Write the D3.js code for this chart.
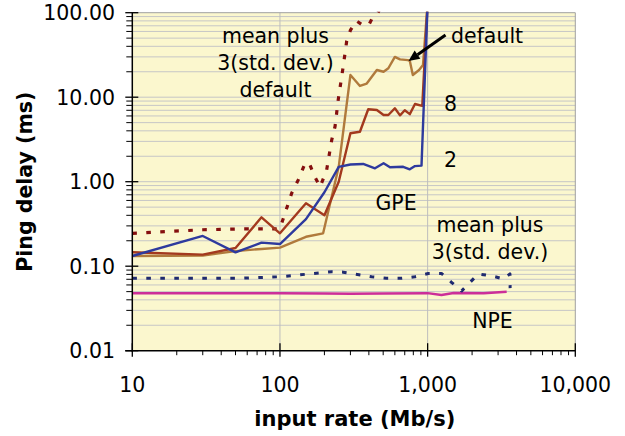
<!DOCTYPE html>
<html><head><meta charset="utf-8">
<script src="https://cdn.jsdelivr.net/npm/d3@7"></script>
<style>body{margin:0;background:#fff}svg{display:block}text{font-family:"DejaVu Sans",Verdana,sans-serif}</style>
</head><body><svg id="c" width="625" height="436"></svg>
<script>
// ---- data (input rate Mb/s, ping delay ms) ----
const xTicks = [10, 100, 1000, 10000];
const xTickLabels = ["10", "100", "1,000", "10,000"];
const yTicks = [0.01, 0.1, 1, 10, 100];
const yTickLabels = ["0.01", "0.10", "1.00", "10.00", "100.00"];

const gpeDefaultRate  = [10, 30, 50, 75, 100, 150, 196, 250, 300, 348, 387, 453, 503, 542, 600, 650, 735, 757, 794, 875, 930, 1000];
const gpeDefaultDelay = [0.132, 0.134, 0.151, 0.16, 0.166, 0.223, 0.245, 1.5, 18.3, 13.6, 14.5, 21, 20, 22, 30, 28, 27.5, 27, 18.3, 21, 24, 130];

const gpe8Rate  = [10, 30, 50, 75, 100, 150, 200, 250, 300, 348, 396, 453, 503, 542, 600, 650, 700, 757, 821, 920, 1000];
const gpe8Delay = [0.146, 0.137, 0.164, 0.379, 0.245, 0.555, 0.40, 1.0, 3.74, 3.9, 7.2, 7.05, 6.15, 6.15, 7.4, 6.1, 7.0, 6.3, 8.3, 7.9, 130];

const gpe2Rate  = [10, 30, 50, 75, 100, 150, 200, 250, 300, 366, 440, 503, 556, 683, 757, 821, 909, 1000];
const gpe2Delay = [0.132, 0.228, 0.146, 0.19, 0.183, 0.36, 0.75, 1.5, 1.6, 1.62, 1.44, 1.65, 1.48, 1.5, 1.40, 1.53, 1.55, 130];

const gpeStdRate  = [10, 30, 56, 95, 100, 120, 133, 148, 158, 172, 187, 207, 224, 236, 248, 268, 283, 300, 330, 360, 400, 420, 460, 500];
const gpeStdDelay = [0.245, 0.27, 0.276, 0.276, 0.28, 0.73, 1.05, 1.65, 1.65, 1.15, 0.87, 1.37, 3.1, 4.5, 9.3, 23, 46, 62, 80, 72, 72, 85, 100, 130];

const npeRate  = [10, 50, 100, 200, 300, 500, 1000, 1240, 1500, 2400, 3430];
const npeDelay = [0.048, 0.048, 0.0477, 0.0475, 0.0473, 0.0476, 0.048, 0.0456, 0.0482, 0.048, 0.0498];

const npeStdRate  = [10, 30, 54, 100, 170, 224, 268, 418, 527, 667, 820, 1010, 1240, 1450, 1700, 1940, 2200, 2700, 3270, 3610, 3620];
const npeStdDelay = [0.072, 0.072, 0.072, 0.075, 0.082, 0.086, 0.085, 0.075, 0.072, 0.072, 0.075, 0.082, 0.082, 0.0645, 0.051, 0.0645, 0.081, 0.077, 0.0706, 0.081, 0.055];

const series = [
  {rate: npeRate, delay: npeDelay, color: "#CC2E99", width: 2.5, dash: null},
  {rate: npeStdRate, delay: npeStdDelay, color: "#1F2A70", width: 3, dash: "4.6,9.4"},
  {rate: gpeStdRate, delay: gpeStdDelay, color: "#850F0F", width: 3.2, dash: "4.6,9.4"},
  {rate: gpeDefaultRate, delay: gpeDefaultDelay, color: "#B07A3C", width: 2.4, dash: null},
  {rate: gpe8Rate, delay: gpe8Delay, color: "#A3391E", width: 2.4, dash: null},
  {rate: gpe2Rate, delay: gpe2Delay, color: "#2E3A9E", width: 2.4, dash: null}
];

const labels = [
  {lines: ["mean plus", "3(std. dev.)", "default"], x: 275.5, y: 43, anchor: "middle"},
  {lines: ["default"], x: 451, y: 43, anchor: "start"},
  {lines: ["8"], x: 444, y: 111, anchor: "start"},
  {lines: ["2"], x: 444, y: 167, anchor: "start"},
  {lines: ["GPE"], x: 396, y: 210, anchor: "middle"},
  {lines: ["mean plus", "3(std. dev.)"], x: 490, y: 232, anchor: "middle"},
  {lines: ["NPE"], x: 492.5, y: 328, anchor: "middle"}
];

// ---- drawing ----
const svg = d3.select("#c");
const L = 132.3, R = 575.3, T = 12.7, B = 350.7;
const x = d3.scaleLog().domain([10, 10000]).range([L, R]);
const y = d3.scaleLog().domain([0.01, 100]).range([B, T]);

svg.append("rect").attr("x", L).attr("y", T).attr("width", R - L).attr("height", B - T).attr("fill", "#FBF7CE");

// minor values
const yMinor = [];
for (let d = 0.01; d < 100; d *= 10) for (let k = 2; k <= 9; k++) yMinor.push(d * k);
const xMinor = [];
for (let d = 10; d < 10000; d *= 10) for (let k = 2; k <= 9; k++) xMinor.push(d * k);

const g = svg.append("g");
g.selectAll(".hg").data(yMinor.concat(yTicks.slice(1, 4))).join("line")
  .attr("x1", L).attr("x2", R).attr("y1", d => y(d)).attr("y2", d => y(d))
  .attr("stroke", "#C6C6C6").attr("stroke-width", 1);
g.selectAll(".vg").data([100, 1000]).join("line")
  .attr("y1", T).attr("y2", B).attr("x1", d => x(d)).attr("x2", d => x(d))
  .attr("stroke", "#BDBDBD").attr("stroke-width", 1);
// border top/right
g.append("line").attr("x1", L).attr("x2", R).attr("y1", T).attr("y2", T).attr("stroke", "#A0A0A0");
g.append("line").attr("x1", R).attr("x2", R).attr("y1", T).attr("y2", B).attr("stroke", "#A0A0A0");

// series
svg.append("clipPath").attr("id", "clip").append("rect").attr("x", L).attr("y", T - 1).attr("width", R - L).attr("height", B - T + 1);
const line = d3.line().x(d => x(d[0])).y(d => y(d[1]));
const sg = svg.append("g").attr("clip-path", "url(#clip)");
series.forEach(s => {
  const pts = s.rate.map((r, i) => [r, s.delay[i]]);
  sg.append("path").attr("d", line(pts)).attr("fill", "none")
    .attr("stroke", s.color).attr("stroke-width", s.width)
    .attr("stroke-dasharray", s.dash).attr("stroke-linejoin", "round");
});

// axes
const yAxis = svg.append("g");
yAxis.append("line").attr("x1", L).attr("x2", L).attr("y1", T).attr("y2", B + 1).attr("stroke", "#000").attr("stroke-width", 1.5);
yAxis.selectAll(".ymin").data(yMinor).join("line")
  .attr("x1", L - 6).attr("x2", L).attr("y1", d => y(d)).attr("y2", d => y(d)).attr("stroke", "#000");
yAxis.selectAll(".ymaj").data(yTicks).join("line")
  .attr("x1", L - 7).attr("x2", L + 6).attr("y1", d => y(d)).attr("y2", d => y(d)).attr("stroke", "#000").attr("stroke-width", 1.3);
yAxis.selectAll(".ylab").data(yTicks).join("text")
  .attr("x", 115).attr("y", d => y(d) + 7.5).attr("text-anchor", "end")
  .attr("font-size", "20.5px").text((d, i) => yTickLabels[i]);

const xAxis = svg.append("g");
xAxis.append("line").attr("x1", L - 7).attr("x2", R).attr("y1", B).attr("y2", B).attr("stroke", "#000").attr("stroke-width", 1.5);
xAxis.selectAll(".xmin").data(xMinor).join("line")
  .attr("y1", B).attr("y2", B + 4.5).attr("x1", d => x(d)).attr("x2", d => x(d)).attr("stroke", "#000");
xAxis.selectAll(".xmaj").data(xTicks).join("line")
  .attr("y1", B - 7.5).attr("y2", B + 6).attr("x1", d => x(d)).attr("x2", d => x(d)).attr("stroke", "#000").attr("stroke-width", 1.3);
xAxis.selectAll(".xlab").data(xTicks).join("text")
  .attr("x", d => x(d)).attr("y", 391.5).attr("text-anchor", "middle")
  .attr("font-size", "20.5px").text((d, i) => xTickLabels[i]);

svg.append("text").attr("x", (L + R) / 2 + 1).attr("y", 426).attr("text-anchor", "middle")
  .attr("font-size", "21px").attr("font-weight", "bold").text("input rate (Mb/s)");
svg.append("text").attr("transform", `translate(32,${(T + B) / 2}) rotate(-90)`).attr("text-anchor", "middle")
  .attr("font-size", "20.5px").attr("font-weight", "bold").text("Ping delay (ms)");

// annotations
labels.forEach(l => {
  const t = svg.append("text").attr("text-anchor", l.anchor).attr("font-size", "20.5px");
  l.lines.forEach((s, i) => t.append("tspan").attr("x", l.x).attr("y", l.y + i * 27).text(s));
});

// arrow
const ax1 = 445.5, ay1 = 35, ax2 = 408.5, ay2 = 61;
const ang = Math.atan2(ay2 - ay1, ax2 - ax1);
const hl = 11, hw = 5;
const bx = ax2 - hl * Math.cos(ang), by = ay2 - hl * Math.sin(ang);
svg.append("line").attr("x1", ax1).attr("y1", ay1).attr("x2", bx).attr("y2", by).attr("stroke", "#000").attr("stroke-width", 3);
svg.append("path").attr("d", `M${ax2},${ay2}L${bx + hw * Math.sin(ang)},${by - hw * Math.cos(ang)}L${bx - hw * Math.sin(ang)},${by + hw * Math.cos(ang)}Z`).attr("fill", "#000");
</script></body></html>
